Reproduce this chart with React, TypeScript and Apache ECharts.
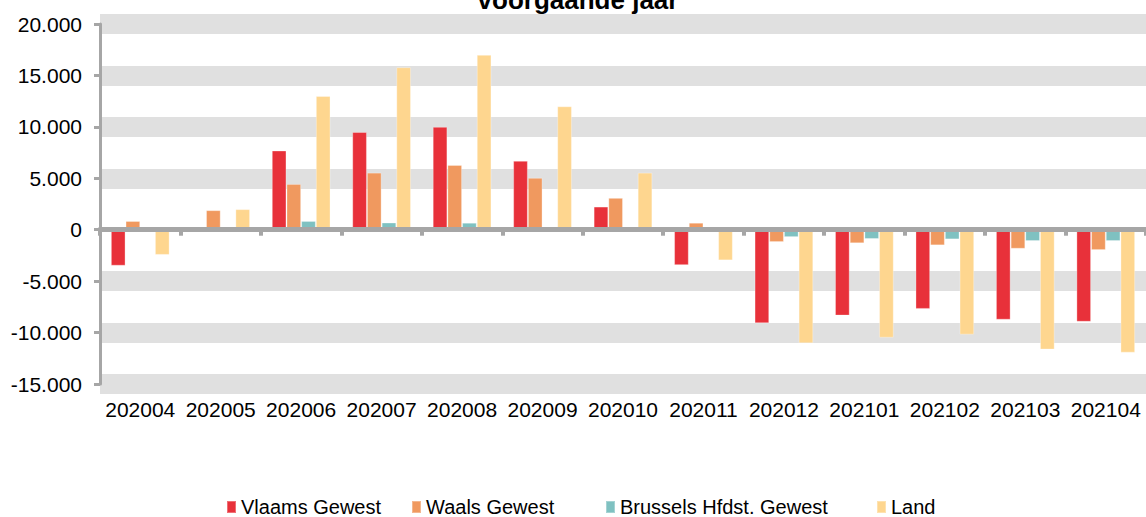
import React, { useEffect, useRef } from "react";
import * as echarts from "echarts";

const categories = [
  "202004", "202005", "202006", "202007", "202008", "202009", "202010",
  "202011", "202012", "202101", "202102", "202103", "202104",
];
const vlaams = [-3500, 0, 7700, 9500, 10000, 6700, 2250, -3450, -9100, -8350, -7700, -8750, -8950];
const waals = [850, 1900, 4450, 5550, 6300, 5050, 3100, 680, -1200, -1320, -1520, -1850, -1980];
const brussel = [0, 0, 850, 700, 680, 250, 50, 0, -720, -900, -940, -1100, -1100];
const land = [-2450, 2000, 13000, 15800, 17000, 12000, 5550, -2980, -11050, -10500, -10200, -11650, -11950];

const seriesNames = ["Vlaams Gewest", "Waals Gewest", "Brussels Hfdst. Gewest", "Land"];
const seriesColors = ["#E8313A", "#F0995F", "#7FC1C1", "#FED68F"];
const legendLefts = [226, 411, 605, 876];
const yTicks = [-15000, -10000, -5000, 0, 5000, 10000, 15000, 20000];

const fmt = (v: number) => {
  const s = Math.abs(v).toString().replace(/\B(?=(\d{3})+(?!\d))/g, ".");
  return (v < 0 ? "-" : "") + s;
};

export default function App() {
  const ref = useRef<HTMLDivElement>(null);
  useEffect(() => {
    if (!ref.current) return;
    const chart = echarts.init(ref.current, undefined, { renderer: "svg" });
    const font = "'Liberation Sans', Arial, sans-serif";
    const dataSets = [vlaams, waals, brussel, land];
    const option: any = {
      animation: false,
      backgroundColor: "#ffffff",
      textStyle: { fontFamily: font },
      grid: { left: 100, right: 0, top: 24, bottom: 133, containLabel: false },
      legend: seriesNames.map((n, i) => ({
        data: [n],
        left: legendLefts[i],
        top: 497,
        itemWidth: 9,
        itemHeight: 12,
        itemGap: 0,
        icon: "rect",
        textStyle: { fontSize: 20, color: "#000", fontFamily: font },
        padding: 0,
        selectedMode: false,
      })),
      xAxis: [
        {
          type: "category",
          data: categories,
          position: "bottom",
          axisLine: { show: false, onZero: false },
          axisTick: { show: false },
          axisLabel: { fontSize: 21, color: "#000", margin: 15, fontFamily: font, interval: 0 },
          splitLine: { show: false },
        },
        {
          type: "category",
          data: categories,
          position: "bottom",
          z: 10,
          axisLine: { show: true, onZero: true, lineStyle: { color: "#A6A6A6", width: 5 } },
          axisTick: { show: true, length: 6, lineStyle: { color: "#A6A6A6", width: 4 } },
          axisLabel: { show: false },
          splitLine: { show: false },
        },
      ],
      yAxis: {
        type: "value",
        min: yTicks[0],
        max: yTicks[yTicks.length - 1],
        interval: 5000,
        axisLine: { show: true, lineStyle: { color: "#A6A6A6", width: 3 } },
        axisTick: { show: true, length: 6, lineStyle: { color: "#A6A6A6", width: 3 } },
        axisLabel: { fontSize: 21, color: "#000", margin: 18, fontFamily: font, formatter: (v: number) => fmt(v) },
        splitLine: {
          show: true,
          lineStyle: {
            width: 20,
            color: yTicks.map((t) => (t === 0 ? "rgba(0,0,0,0)" : "#E0E0E0")),
          },
        },
      },
      graphic: [
        {
          type: "text",
          x: 578,
          y: 0,
          style: {
            text: "voorgaande jaar",
            align: "center",
            verticalAlign: "middle",
            font: "bold 26px 'Liberation Sans', Arial, sans-serif",
            fill: "#000",
          },
        },
      ],
      series: seriesNames.map((n, i) => ({
        name: n,
        type: "bar",
        xAxisIndex: 0,
        data: dataSets[i],
        barGap: "0%",
        barCategoryGap: "27%",
        itemStyle: { color: seriesColors[i], borderColor: "rgba(255,255,255,0.3)", borderWidth: 1 },
      })),
    };
    chart.setOption(option);
    return () => chart.dispose();
  }, []);
  return (
    <div
      ref={ref}
      style={{ position: "fixed", left: 0, top: 0, width: 1146, height: 517 }}
    />
  );
}
